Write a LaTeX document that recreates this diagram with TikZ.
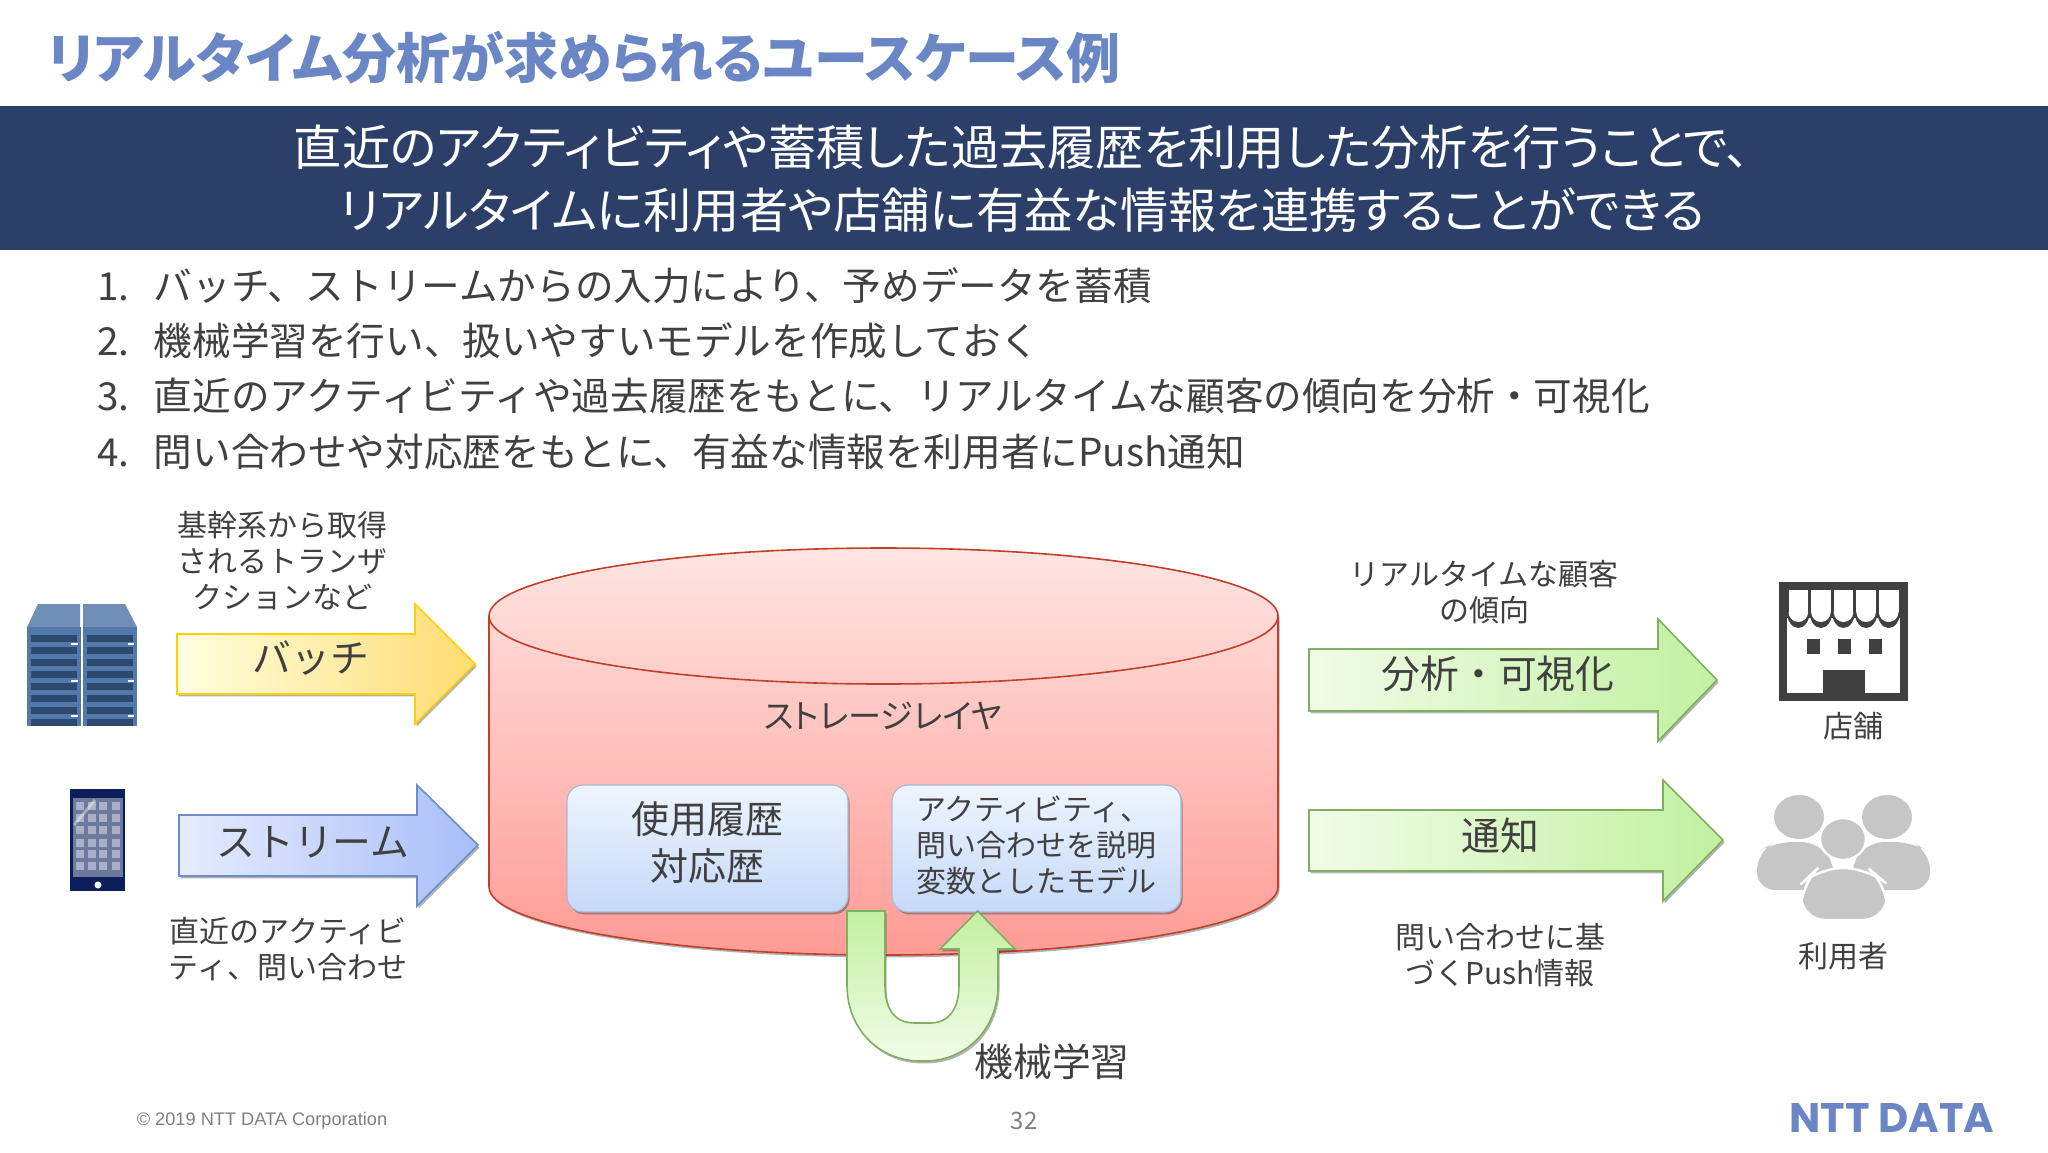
\documentclass[tikz,border=0pt]{standalone}
\usepackage{graphicx}
\usepackage{fontspec}
\setmainfont{Noto Sans CJK JP}
\newfontfamily\paltfont[RawFeature=+palt]{Noto Sans CJK JP}
\newfontfamily\logofont{Poppins}
\newfontfamily\footfont{Liberation Sans}
\usetikzlibrary{shadows}
\definecolor{titleblue}{HTML}{6A86C4}
\definecolor{bannerblue}{HTML}{2B3F68}
\definecolor{textgray}{HTML}{404040}
\definecolor{footgray}{HTML}{7F7F7F}
\definecolor{iconblue}{HTML}{3F6A9F}
\definecolor{tabletblue}{HTML}{0C1F5C}
\definecolor{canborder}{HTML}{C0402A}
\definecolor{greenborder}{HTML}{7FB060}
\definecolor{greendark}{HTML}{C2F0A0}
\definecolor{greenpale}{HTML}{F1FCE8}
\tikzset{
    softshadow/.style={drop shadow={shadow xshift=0.8pt, shadow yshift=-1.2pt, opacity=0.3, fill=black}},
    batcharrow/.style={draw=yellow!70!orange, line width=0.8pt, left color=yellow!12, right color=yellow!50!orange!55, softshadow},
    streamarrow/.style={draw={rgb,255:red,108;green,142;blue,200}, line width=0.8pt, left color={rgb,255:red,230;green,236;blue,255}, right color={rgb,255:red,168;green,190;blue,248}, softshadow},
    outarrow/.style={draw=greenborder, line width=0.8pt, left color=greenpale, right color=greendark, softshadow},
    modelbox/.style={draw={rgb,255:red,168;green,187;blue,212}, line width=0.6pt, rounded corners=8pt, top color={rgb,255:red,238;green,245;blue,255}, bottom color={rgb,255:red,197;green,217;blue,248}, softshadow},
    bigtext/.style={text=textgray, font=\fontsize{19.4}{19.4}\selectfont},
    smalltext/.style={text=textgray, align=center, font=\fontsize{15}{18}\selectfont},
    itemtext/.style={text=textgray, anchor=west, font=\fontsize{19.3}{19.3}\selectfont},
    personfill/.style={fill=gray!45},
}
\begin{document}
\begin{tikzpicture}[x=0.5pt, y=-0.5pt]
    \useasboundingbox (0,0) rectangle (2048,1152);

    % Title and banner
    \node (title) [text=titleblue, anchor=west, inner sep=0pt, font=\paltfont\bfseries\fontsize{27}{27}\selectfont] at (47,58) {リアルタイム分析が求められるユースケース例};
    \fill[bannerblue] (0,105.5) rectangle (2048,250);
    \node (banner) [text=white, align=center, font=\paltfont\fontsize{24.1}{31.5}\selectfont] at (1022,179) {直近のアクティビティや蓄積した過去履歴を利用した分析を行うことで、\\リアルタイムに利用者や店舗に有益な情報を連携することができる};

    % Numbered list
    \node (item1) [itemtext] at (90,286) {\makebox[28.4pt][l]{1.}バッチ、ストリームからの入力により、予めデータを蓄積};
    \node (item2) [itemtext] at (90,341) {\makebox[28.4pt][l]{2.}機械学習を行い、扱いやすいモデルを作成しておく};
    \node (item3) [itemtext] at (90,396) {\makebox[28.4pt][l]{3.}直近のアクティビティや過去履歴をもとに、リアルタイムな顧客の傾向を分析・可視化};
    \node (item4) [itemtext] at (90,452) {\makebox[28.4pt][l]{4.}問い合わせや対応歴をもとに、有益な情報を利用者にPush通知};

    % Server racks
    \fill[iconblue!75!white] (38,604) -- (80,604) -- (80,627) -- (27,627) -- cycle;
    \fill[iconblue!75!white] (83,604) -- (125,604) -- (137,627) -- (83,627) -- cycle;
    \foreach \x in {27,83} {
        \fill[iconblue!90!white] (\x,627) rectangle ++(54,99);
        \foreach \y in {0,...,7}
            \fill[iconblue!70!black] (\x+4,635+12*\y) rectangle ++(46,6.5);
    }
    \foreach \y in {643,680,715} {
        \fill[white] (71,\y) rectangle ++(7,2);
        \fill[white] (128,\y) rectangle ++(6,2);
    }

    % Tablet
    \fill[tabletblue] (70,789) rectangle (125,891);
    \fill[tabletblue!60!white] (73,798) rectangle (123,877);
    \foreach \x in {76,88,99,112}
        \foreach \y in {802,814,826,839,850,862}
            \fill[tabletblue!35!white] (\x,\y) rectangle ++(8,8);
    \draw[white, opacity=0.4, line width=1.5pt] (74,825) -- (95,800);
    \fill[white] (98,885) circle (3.5);

    % Input arrows
    \draw[batcharrow] (177,634) -- (415,634) -- (415,604) -- (475,664) -- (415,724) -- (415,694) -- (177,694) -- cycle;
    \node (batch) [bigtext] at (311,658) {バッチ};
    \draw[streamarrow] (179,815) -- (417,815) -- (417,785) -- (478,845) -- (417,906) -- (417,876) -- (179,876) -- cycle;
    \node (stream) [bigtext] at (313,842) {ストリーム};
    \node (batchnote) [smalltext] at (282,561) {基幹系から取得\\されるトランザ\\クションなど};
    \node (streamnote) [smalltext] at (288,949) {直近のアクティビ\\ティ、問い合わせ};

    % Storage cylinder
    \draw[draw=canborder, line width=0.8pt, top color={rgb,255:red,255;green,229;blue,226}, bottom color={rgb,255:red,255;green,155;blue,149}, softshadow] (489,616) arc (180:360:394.5 and 68) -- (1278,887) arc (0:180:394.5 and 68) -- cycle;
    \draw[draw=canborder, line width=0.8pt] (489,616) arc (180:0:394.5 and 68);
    \node (storage) [text=textgray, font=\paltfont\fontsize{16.6}{16.6}\selectfont] at (883,716) {ストレージレイヤ};

    % Boxes in the storage
    \node (historybox) [modelbox, minimum width=140.5pt, minimum height=63.5pt] at (707.5,848.5) {};
    \node (history) [text=textgray, align=center, font=\fontsize{19}{23.5}\selectfont] at (707,843) {使用履歴\\対応歴};
    \node (modelbox) [modelbox, minimum width=144.5pt, minimum height=63.5pt] at (1036.5,848.5) {};
    \node (model) [text=textgray, align=left, font=\fontsize{15}{18}\selectfont] at (1036,845) {アクティビティ、\\問い合わせを説明\\変数としたモデル};

    % Machine learning U turn
    \draw[draw=greenborder, line width=0.8pt, top color=greendark, bottom color=greenpale, softshadow] (847,911) -- (885,911) -- (885,985) .. controls (885,1010) and (895,1023) .. (915,1023) -- (930,1023) .. controls (948,1023) and (959,1010) .. (959,985) -- (959,949) -- (940,949) -- (977.5,911) -- (1015,949) -- (998,949) -- (998,985) .. controls (998,1030) and (965,1061) .. (925,1061) -- (920,1061) .. controls (880,1061) and (847,1030) .. (847,985) -- cycle;
    \node (learning) [bigtext] at (1052,1062) {機械学習};

    % Output arrows
    \draw[outarrow] (1309,649) -- (1658,649) -- (1658,619) -- (1717,680) -- (1658,741) -- (1658,711) -- (1309,711) -- cycle;
    \node (analysis) [bigtext] at (1498,674) {分析・可視化};
    \draw[outarrow] (1309,810) -- (1663,810) -- (1663,780) -- (1723,840) -- (1663,901) -- (1663,871) -- (1309,871) -- cycle;
    \node (notify) [bigtext] at (1500,836) {通知};
    \node (analysisnote) [smalltext] at (1484,592) {リアルタイムな顧客\\の傾向};
    \node (notifynote) [smalltext] at (1500,955) {問い合わせに基\\づくPush情報};

    % Store icon
    \fill[textgray] (1779,582) rectangle (1908,701);
    \fill[white] (1787,618) rectangle (1900,693);
    \foreach \x in {0,...,4} {
        \fill[textgray] (1787+22.6*\x,612) -- ++(22.6,0) arc (0:180:11.3 and 16) -- cycle;
        \fill[white] (1788.5+22.6*\x,590) rectangle ++(19.6,22);
        \fill[white] (1788.5+22.6*\x,612) -- ++(19.6,0) arc (0:180:9.8 and 10) -- cycle;
    }
    \foreach \x in {1807,1838,1869}
        \fill[textgray] (\x,639) rectangle ++(13,15);
    \fill[textgray] (1823,670) rectangle (1865,694);
    \node (store) [smalltext] at (1853,726) {店舗};

    % User icon
    \fill[personfill, rounded corners=9pt] (1757,890) -- (1757,852) -- (1775,842) -- (1820,842) -- (1836,868) -- (1836,890) -- cycle;
    \fill[personfill, rounded corners=9pt] (1930,890) -- (1930,852) -- (1912,842) -- (1866,842) -- (1850,868) -- (1850,890) -- cycle;
    \fill[personfill] (1799,817) ellipse (25 and 22);
    \fill[personfill] (1887,817) ellipse (25 and 22);
    \draw[white, line width=1.2pt, personfill] (1843,839) ellipse (23 and 21);
    \draw[white, line width=1.2pt, personfill, rounded corners=12pt] (1801,920) -- (1801,884) -- (1818,868) -- (1868,868) -- (1887,884) -- (1887,920) -- cycle;
    \node (user) [smalltext] at (1843,956) {利用者};

    % Footer
    \node (copyright) [text=footgray, font=\footfont\fontsize{9.1}{9.1}\selectfont] at (262,1121) {© 2019 NTT DATA Corporation};
    \node (page) [text=footgray, font=\fontsize{12}{12}\selectfont] at (1024,1121) {32};
    \node (logo) [text=titleblue, inner sep=0pt] at (1892,1117.5) {\resizebox{102.5pt}{14.5pt}{\logofont\bfseries NTT DATA}};
\end{tikzpicture}
\end{document}
